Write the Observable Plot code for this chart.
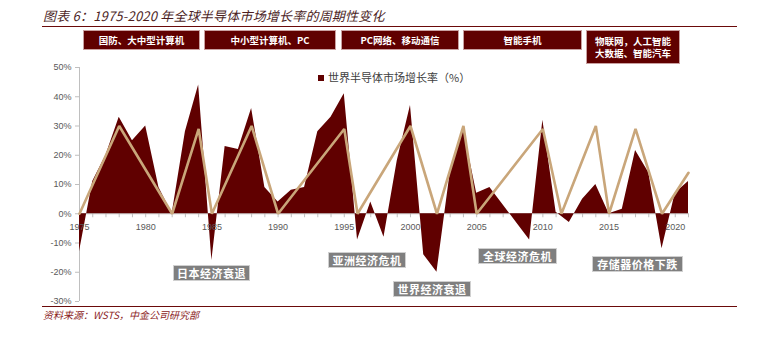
<!DOCTYPE html>
<html><head><meta charset="utf-8">
<script src="https://cdn.jsdelivr.net/npm/d3@7"></script>
<script src="https://cdn.jsdelivr.net/npm/@observablehq/plot@0.6"></script>
<style>
body{margin:0;background:#fff;}
#wrap{position:relative;width:776px;height:340px;overflow:hidden;font-family:"Noto Sans CJK SC","Noto Sans",sans-serif;}
#wrap svg{position:absolute;left:0;top:0;}
.abs{position:absolute;box-sizing:border-box;}
.title{left:43px;top:6px;font-size:13px;font-style:italic;color:#4d1f1f;white-space:nowrap;line-height:20px;letter-spacing:0.2px;}
.hline{left:42px;width:695px;height:1.5px;background:#6b0a0a;}
.hbox{background:#600000;border:1px solid #c9a0a0;color:#fff;font-weight:bold;font-size:9.5px;display:flex;align-items:center;justify-content:center;text-align:center;line-height:12px;white-space:pre;}
.abox{background:#7f7f7f;border:1px solid #d0d0d0;color:#fff;font-weight:bold;font-size:11px;display:flex;align-items:center;justify-content:center;white-space:nowrap;letter-spacing:0.5px;}
.legend{left:318px;top:68px;font-size:11px;color:#404040;white-space:nowrap;line-height:18px;}
.legend i{display:inline-block;width:6px;height:6px;background:#600000;margin-right:4px;vertical-align:1px;}
.foot{left:43px;top:308px;font-size:10px;font-style:italic;color:#8b2323;white-space:nowrap;line-height:14px;}
</style></head><body><div id="wrap"></div>
<script>
// ---- data ----
const years = [1975,1976,1977,1978,1979,1980,1981,1982,1983,1984,
  1985,1986,1987,1988,1989,1990,1991,1992,1993,1994,
  1995,1996,1997,1998,1999,2000,2001,2002,2003,2004,
  2005,2006,2007,2008,2009,2010,2011,2012,2013,2014,
  2015,2016,2017,2018,2019,2020,2021];
const growth = [-13,11,20,33,25,30,9,0,28,44,
  -16,23,22,36,9,4,8,9,28,33,
  41,-9,4,-8,18,37,-14,-20,14,29,
  7,9,3,-3,-9,32,0.5,-3,5,10,
  0,1.5,21.6,14,-12,7,11];
const cycleYears = [1975,1978,1982,1984,1985,1988,1990,1995,1996,2000,2002,2004,2005,2010,2011.4,2014,2015,2017,2019,2021];
const cycleValues = [0,30,0,29,0,30,0,29,0,30,0,30,0,29,0,30,0,29,0,14];
const yTicks = [-30,-20,-10,0,10,20,30,40,50];
const xLabelYears = [1975,1980,1985,1990,1995,2000,2005,2010,2015,2020];
const titleText = "图表 6：1975-2020 年全球半导体市场增长率的周期性变化";
const legendText = "世界半导体市场增长率（%）";
const sourceText = "资料来源：WSTS，中金公司研究部";
const eraLabels = ["国防、大中型计算机","中小型计算机、PC","PC网络、移动通信","智能手机","物联网，人工智能\n大数据、智能汽车"];
const eventLabels = ["日本经济衰退","亚洲经济危机","世界经济衰退","全球经济危机","存储器价格下跌"];

// ---- layout (pixels) ----
const eraBoxes = [[83,30,117,20],[204,30,132,20],[341,30,118,20],[463,30,119,20],[586,30,94,34]];
const eventBoxes = [[173,265,77,16],[328,252,78,16],[393,281,78,16],[478,248,79,16],[592,256,91,16]];

const data = years.map((y,i)=>({year:y, value:growth[i]}));
const cycle = cycleYears.map((y,i)=>({year:y, value:cycleValues[i]}));

const chart = Plot.plot({
  width: 776, height: 340,
  marginLeft: 79, marginRight: 88, marginTop: 67, marginBottom: 39,
  x: {domain: [1975, 2021], axis: null},
  y: {domain: [-30, 50], axis: null},
  style: {background: "transparent", fontFamily: "'Liberation Sans', Arial, sans-serif"},
  marks: [
    Plot.axisY(yTicks, {label: null, tickSize: 4, tickPadding: 4, tickFormat: d => d + "%", fontSize: 9, color: "#595959", stroke: "#bfbfbf"}),
    Plot.ruleX([1975], {y1: -30, y2: 50, stroke: "#bfbfbf"}),
    Plot.ruleY([0], {stroke: "#bfbfbf"}),
    Plot.ruleX(years, {x: d => d, y1: 0, y2: 0, insetBottom: -4, stroke: "#bfbfbf"}),
    Plot.areaY(data, {x: "year", y: "value", fill: "#600000", curve: "linear"}),
    Plot.text(xLabelYears, {x: d => d, y: 0, dy: 13, text: d => String(d), fontSize: 9, fill: "#595959"}),
    Plot.line(cycle, {x: "year", y: "value", stroke: "#c9a67a", strokeWidth: 2.6, strokeLinejoin: "miter"})
  ]
});

const wrap = document.getElementById("wrap");
wrap.appendChild(chart);

function add(cls, css, text){
  const d = document.createElement("div");
  d.className = "abs " + cls;
  Object.assign(d.style, css);
  if (text !== undefined) d.textContent = text;
  wrap.appendChild(d);
  return d;
}
add("title", {}, titleText);
add("hline", {top: "25.5px"});
add("hline", {top: "305.5px"});
eraLabels.forEach((t,i)=>{
  const [x,y,w,h] = eraBoxes[i];
  add("hbox", {left:x+"px", top:y+"px", width:w+"px", height:h+"px"}, t);
});
eventLabels.forEach((t,i)=>{
  const [x,y,w,h] = eventBoxes[i];
  add("abox", {left:x+"px", top:y+"px", width:w+"px", height:h+"px"}, t);
});
const lg = add("legend", {});
lg.innerHTML = "<i></i>" + legendText;
add("foot", {}, sourceText);
</script>
</body></html>
